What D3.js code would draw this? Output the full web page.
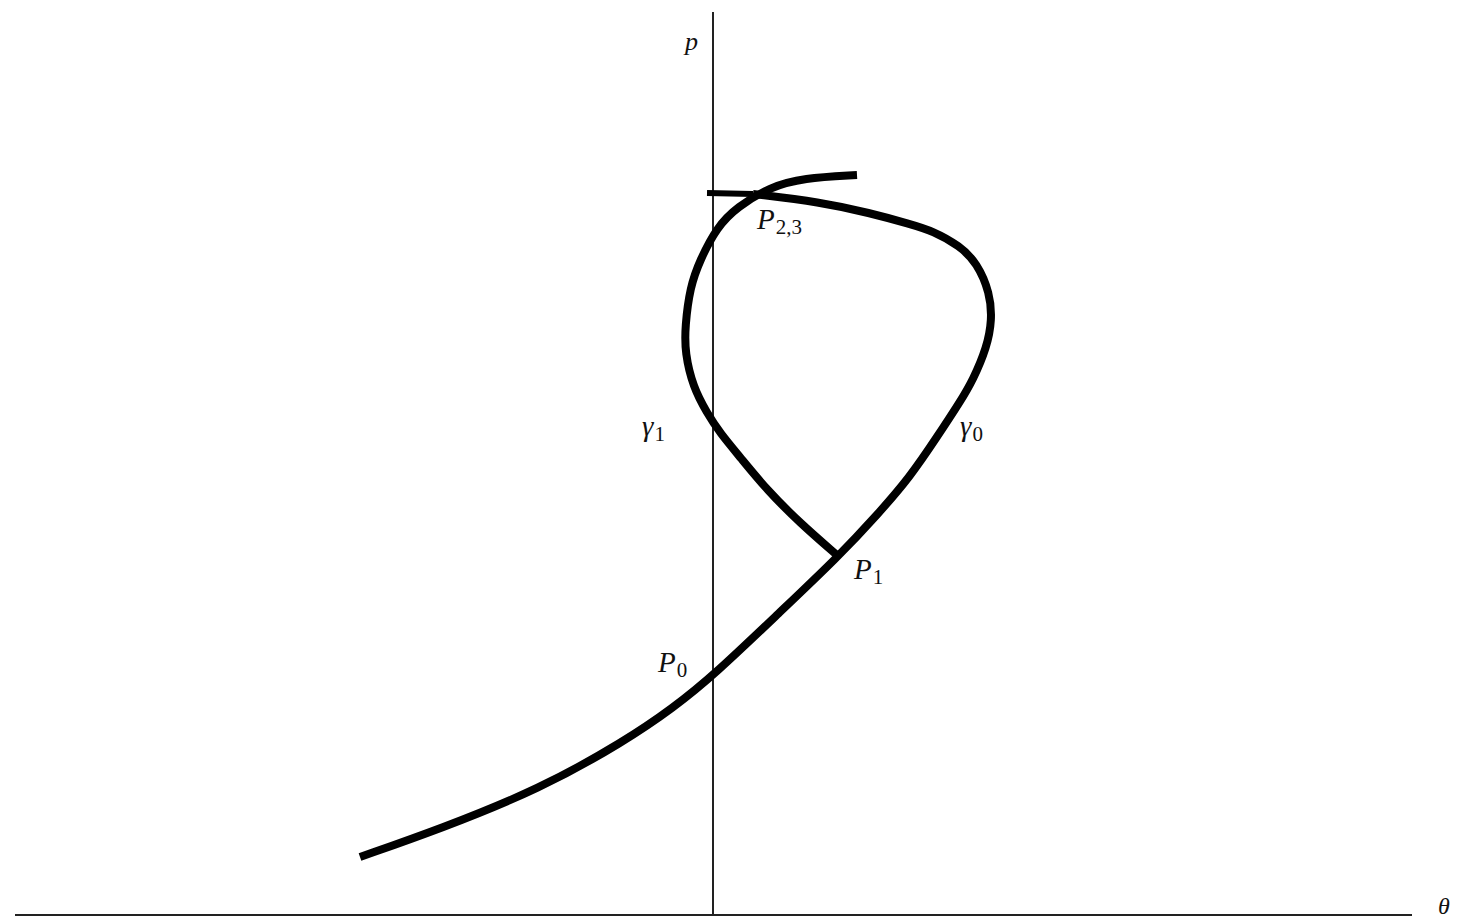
<!DOCTYPE html>
<html lang="en">
<head>
<meta charset="UTF-8">
<title>Phase plane curves</title>
<script src="https://cdnjs.cloudflare.com/ajax/libs/d3/7.8.5/d3.min.js"></script>
<style>
  body { margin: 0; background: #fff; }
  text { font-family: "Liberation Serif", "DejaVu Serif", serif; fill: #111; }
</style>
</head>
<body>
<svg width="1458" height="921"></svg>
<script>
// curve gamma0: from lower left, through P0 and P1, around the loop to P2,3
const gamma0Theta = [-1.765, -1.365, -0.865, -0.44, -0.2, 0.005, 0.335, 0.625, 0.825, 0.985, 1.12, 1.235, 1.3, 1.37, 1.395, 1.385, 1.32, 1.235, 1.1, 0.985, 0.785, 0.535, 0.2];
const gamma0P     = [0.29, 0.43, 0.63, 0.87, 1.035, 1.2, 1.515, 1.79, 2.005, 2.19, 2.39, 2.565, 2.675, 2.84, 2.975, 3.11, 3.26, 3.345, 3.42, 3.455, 3.51, 3.565, 3.605];
// flat piece at the top
const flatTheta = [0.2, -0.03];
const flatP     = [3.605, 3.61];
// curve gamma1: from P1 up the left side of the loop
const gamma1Theta = [0.625, 0.435, 0.27, 0.135, 0.035, -0.03, -0.1, -0.14, -0.14, -0.115, -0.065, 0.02, 0.12, 0.285, 0.45, 0.72];
const gamma1P     = [1.795, 1.96, 2.125, 2.29, 2.41, 2.51, 2.64, 2.81, 2.94, 3.14, 3.275, 3.44, 3.54, 3.64, 3.685, 3.70];

// point labels (main letter, subscript, anchor theta, anchor p)
const labelMain  = ["P", "P", "P", "\u03B3", "\u03B3"];
const labelSub   = ["0", "1", "2,3", "1", "0"];
const labelTheta = [0, 0.625, 0.2, 0, 1.27];
const labelP     = [1.195, 1.79, 3.605, 2.44, 2.44];

const svg = d3.select("svg");
const x = d3.scaleLinear().domain([-3.5, 3.5]).range([13, 1413]);
const y = d3.scaleLinear().domain([0, 4.515]).range([915, 12]);

// axes
svg.append("line")
  .attr("x1", x(-3.49)).attr("x2", x(3.495))
  .attr("y1", y(0)).attr("y2", y(0))
  .attr("stroke", "#222").attr("stroke-width", 2);
svg.append("line")
  .attr("x1", x(0)).attr("x2", x(0))
  .attr("y1", y(0)).attr("y2", y(4.515))
  .attr("stroke", "#222").attr("stroke-width", 2);
svg.append("text").attr("x", x(0) - 28).attr("y", y(4.515) + 38)
  .attr("font-size", 26).attr("font-style", "italic").text("p");
svg.append("text").attr("x", 1438).attr("y", y(0) - 1)
  .attr("font-size", 24).attr("font-style", "italic").text("\u03B8");

// smoothing spline, the read points are a bit noisy
const line = d3.line()
  .x(d => x(d[0]))
  .y(d => y(d[1]))
  .curve(d3.curveBasis);

const g0 = gamma0Theta.map((t, i) => [t, gamma0P[i]]);
const g1 = gamma1Theta.map((t, i) => [t, gamma1P[i]]);
const fl = flatTheta.map((t, i) => [t, flatP[i]]);

[g0, g1].forEach(pts => {
  svg.append("path")
    .attr("d", line(pts))
    .attr("fill", "none")
    .attr("stroke", "#000")
    .attr("stroke-width", 8)
    .attr("stroke-linejoin", "round");
});
svg.append("path")
  .attr("d", d3.line().x(d => x(d[0])).y(d => y(d[1]))(fl))
  .attr("fill", "none").attr("stroke", "#000").attr("stroke-width", 6);

// label offsets from the anchor point, in pixels
const offs = [[-55, -4], [16, 22], [4, 35], [-71, 9], [-7, 9]];
labelMain.forEach((m, i) => {
  const t = svg.append("text")
    .attr("x", x(labelTheta[i]) + offs[i][0])
    .attr("y", y(labelP[i]) + offs[i][1])
    .attr("font-size", 29);
  t.append("tspan").attr("font-style", "italic").text(m);
  t.append("tspan").attr("font-size", 21).attr("dy", 5).attr("dx", 1).text(labelSub[i]);
});
</script>
</body>
</html>
